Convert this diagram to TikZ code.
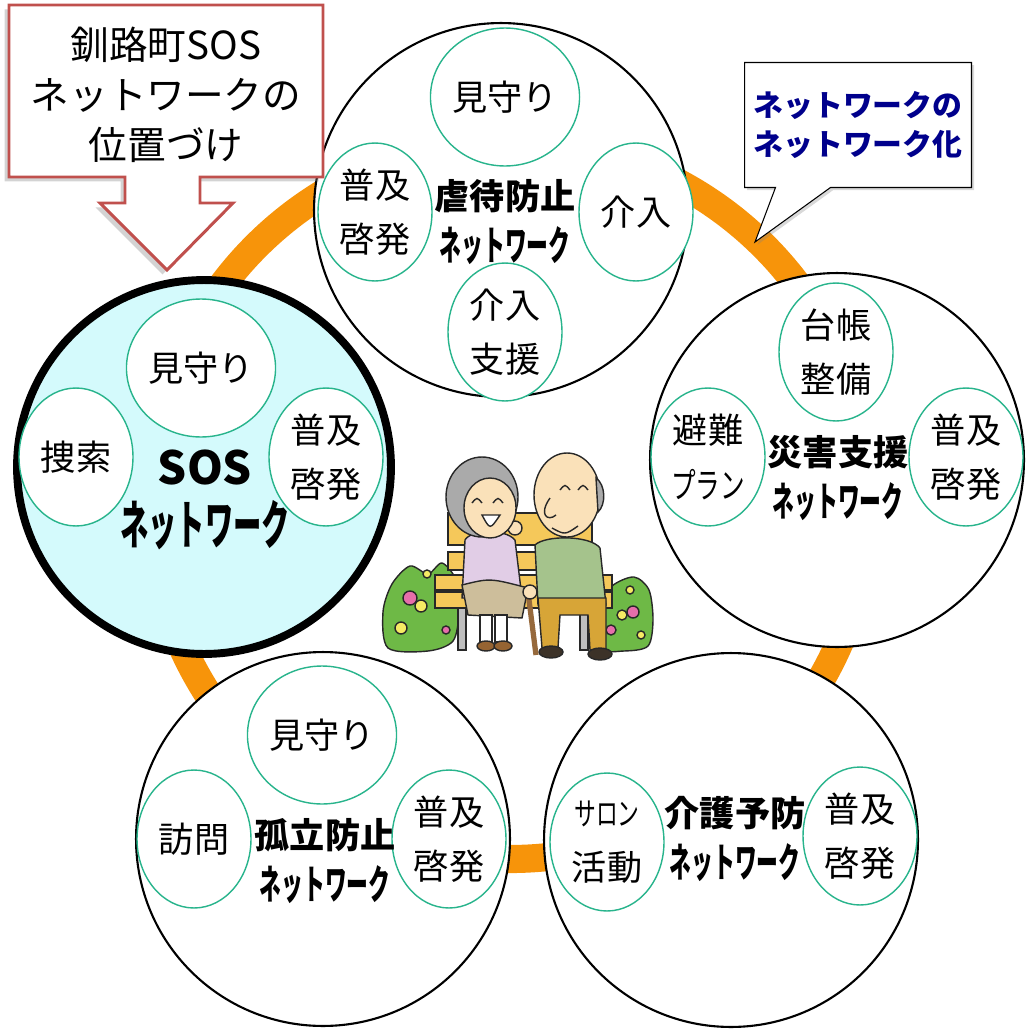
\documentclass[tikz,border=0pt]{standalone}
\usepackage{fontspec}
\setmainfont{Noto Sans CJK JP}
\usetikzlibrary{positioning,shapes.geometric,shapes.callouts,shadows}

\definecolor{ringorange}{RGB}{247,148,10}
\definecolor{subgreen}{RGB}{40,180,140}
\definecolor{sosblue}{RGB}{212,250,252}
\definecolor{boxred}{RGB}{192,80,77}
\definecolor{memoblue}{RGB}{0,0,140}
% colours of the bench scene
\definecolor{inkline}{RGB}{40,40,40}
\definecolor{bushgreen}{RGB}{110,185,70}
\definecolor{flowerpink}{RGB}{230,110,170}
\definecolor{flowery}{RGB}{245,235,100}
\definecolor{benchyellow}{RGB}{245,200,90}
\definecolor{benchgrey}{RGB}{190,190,190}
\definecolor{hairgrey}{RGB}{170,170,170}
\definecolor{skin}{RGB}{250,225,185}
\definecolor{lilac}{RGB}{225,205,230}
\definecolor{skirt}{RGB}{205,190,155}
\definecolor{shoebrown}{RGB}{150,100,50}
\definecolor{shirtgreen}{RGB}{165,195,140}
\definecolor{pants}{RGB}{215,165,55}
\definecolor{shoedark}{RGB}{60,50,40}
\definecolor{canebrown}{RGB}{150,105,60}

\newcommand\netw{\scalebox{0.62}[1.15]{ネットワーク}}

\tikzset{
  net/.style={circle,draw,line width=1.2pt,fill=white,minimum size=7.48cm,inner sep=0pt},
  sub/.style={ellipse,draw=subgreen,line width=0.8pt,fill=white,minimum width=2.28cm,
    minimum height=2.76cm,inner sep=0pt,align=center,font=\fontsize{20}{31}\selectfont},
  ttl/.style={align=center,font=\bfseries\fontsize{20}{29}\selectfont},
}

\begin{document}
\begin{tikzpicture}[x=0.02cm,y=-0.02cm]
  \useasboundingbox (0,0) rectangle (1028,1031);

  % ring linking the networks
  \draw[ringorange,line width=16pt] (510,500) circle[radius=359];

  % the five networks
  \node[net] (gyaku) at (501,210) {};
  \node[net,fill=sosblue,line width=4.5pt] (sos) at (204,467) {};
  \node[net] (saigai) at (837,460) {};
  \node[net] (koritsu) at (323,839) {};
  \node[net] (kaigo) at (731,840) {};

  \node[sub] (g1) at (505,97) {見守り};
  \node[sub] (g2) at (375,212) {普及\\啓発};
  \node[sub] (g3) at (636,212) {介入};
  \node[sub] (g4) at (505,332) {介入\\支援};
  \node[ttl] (gt) at (505,222) {虐待防止\\\netw};

  \node[sub] (s1) at (201,368) {見守り};
  \node[sub] (s2) at (76,457) {捜索};
  \node[sub] (s3) at (326,457) {普及\\啓発};
  \node[ttl,font=\bfseries\fontsize{26}{34}\selectfont] (st) at (205,500) {SOS\\\netw};

  \node[sub] (d1) at (836,352) {台帳\\整備};
  \node[sub] (d2) at (708,457) {避難\\\scalebox{0.7}[1]{プラン}};
  \node[sub] (d3) at (966,457) {普及\\啓発};
  \node[ttl] (dt) at (838,478) {災害支援\\\netw};

  \node[sub] (k1) at (322,735) {見守り};
  \node[sub] (k2) at (194,839) {訪問};
  \node[sub] (k3) at (449,839) {普及\\啓発};
  \node[ttl] (kt) at (325,861) {孤立防止\\\netw};

  \node[sub] (c1) at (607,842) {\scalebox{0.62}[0.9]{サロン}\\活動};
  \node[sub] (c2) at (860,836) {普及\\啓発};
  \node[ttl] (ct) at (735,839) {介護予防\\\netw};

  % arrow box pointing at the SOS network
  \draw[boxred,line width=1.7pt,fill=white,
    drop shadow={shadow xshift=-2.5pt,shadow yshift=-2.5pt,opacity=.35}]
    (9,5) -- (323,5) -- (323,177) -- (200,177) -- (200,203) -- (233,203)
    -- (167,270) -- (100,203) -- (125,203) -- (125,177) -- (9,177) -- cycle;
  \node[align=center,font=\fontsize{22}{28.5}\selectfont] (pos) at (166,95)
    {釧路町SOS\\ネットワークの\\位置づけ};

  % speech box on the ring
  \node[rectangle callout,draw,fill=white,line width=0.6pt,minimum width=4.54cm,
    minimum height=2.5cm,callout absolute pointer={(755,242)},callout pointer width=1.1cm,
    drop shadow={shadow xshift=1.5pt,shadow yshift=-1.5pt,opacity=.3},
    text=memoblue,align=center,font=\bfseries\fontsize{17}{21.7}\selectfont]
    (memo) at (858,125) {ネットワークの\\ネットワーク化};

  % couple on the bench
  \begin{scope}[line width=0.8pt,draw=inkline]
    \draw[fill=bushgreen] plot[smooth cycle] coordinates {(388,648) (383,612) (392,584)
      (410,566) (428,574) (442,563) (456,580) (459,612) (453,641) (428,651)};
    \draw[fill=bushgreen] plot[smooth cycle] coordinates {(596,648) (598,608) (612,586)
      (634,577) (649,590) (653,620) (648,646) (624,651)};
    \foreach \x/\y/\r/\c in {410/598/7/flowerpink,421/606/6/flowery,401/628/6/flowery,
        427/574/4/flowery,444/588/5/flowerpink,446/630/4/flowerpink,630/590/4/flowery,
        633/612/6/flowerpink,622/615/5/flowery,611/630/5/flowerpink,641/635/4/flowery}
      \draw[fill=\c] (\x,\y) circle[radius=\r];
    % bench
    \draw[fill=benchgrey] (458,600) rectangle (466,650);
    \draw[fill=benchgrey] (580,600) rectangle (588,650);
    \draw[fill=benchyellow] (448,513) rectangle (592,545);
    \draw[fill=benchyellow] (448,552) rectangle (592,570);
    \draw[fill=benchyellow] (435,575) rectangle (612,590);
    \draw[fill=benchyellow] (435,592) rectangle (612,608);
    % grandma
    \draw[fill=lilac] (465,540) .. controls (470,530) and (505,528) .. (515,540)
      -- (522,598) -- (462,598) -- cycle;
    \draw[fill=skirt] (462,585) .. controls (490,578) .. (528,588) -- (522,618)
      -- (468,615) -- cycle;
    \draw[fill=white] (480,615) rectangle (492,642);
    \draw[fill=white] (495,615) rectangle (507,642);
    \draw[fill=shoebrown] (486,646) ellipse[x radius=9,y radius=5];
    \draw[fill=shoebrown] (503,646) ellipse[x radius=9,y radius=5];
    \draw[fill=skin] (515,528) circle[radius=7];
    \draw[fill=hairgrey] (482,497) ellipse[x radius=36,y radius=40];
    \draw[fill=skin] (490,508) ellipse[x radius=26,y radius=30];
    \draw (472,503) .. controls (477,497) .. (482,503);
    \draw (493,503) .. controls (498,497) .. (503,503);
    \draw[fill=white] (482,515) .. controls (490,530) .. (500,515) -- cycle;
    % grandpa
    \draw[fill=shirtgreen] (535,545) .. controls (545,535) and (590,535) .. (600,548)
      -- (606,605) -- (538,605) -- cycle;
    \draw[fill=pants] (538,598) -- (606,598) -- (606,650) -- (590,650) -- (588,615)
      -- (560,615) -- (558,648) -- (542,648) -- cycle;
    \draw[fill=shoedark] (551,652) ellipse[x radius=12,y radius=6];
    \draw[fill=shoedark] (600,654) ellipse[x radius=12,y radius=6];
    \draw[canebrown,line width=3pt] (528,592) -- (536,655);
    \draw[fill=skin] (530,592) circle[radius=7];
    \draw[fill=skin] (567,495) ellipse[x radius=33,y radius=42];
    \draw[fill=hairgrey] (596,478) .. controls (606,485) and (606,505) .. (598,512) -- cycle;
    \draw (560,490) .. controls (565,484) .. (570,490);
    \draw (578,490) .. controls (583,484) .. (588,490);
    \draw (550,498) .. controls (538,515) and (548,522) .. (556,515);
    \draw (552,528) .. controls (565,535) .. (578,526);
  \end{scope}
\end{tikzpicture}
\end{document}
